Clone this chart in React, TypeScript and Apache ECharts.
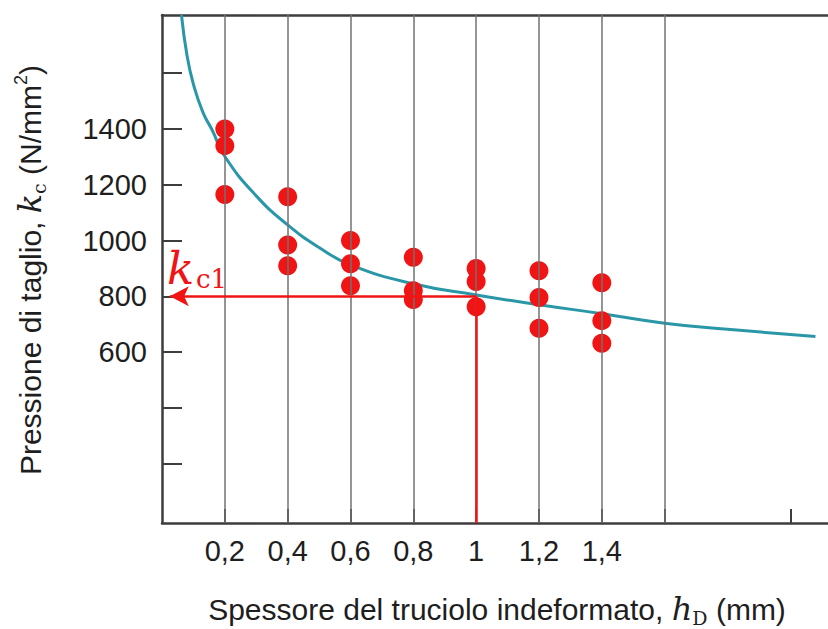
import React, { useEffect, useRef } from "react";
import * as echarts from "echarts";

// ---- data ----
const hValues = [0.2, 0.4, 0.6, 0.8, 1.0, 1.2, 1.4];
const kcMeasured = [
  [1400, 1340, 1165],
  [1157, 984, 910],
  [1000, 917, 838],
  [940, 820, 789],
  [900, 853, 763],
  [892, 796, 686],
  [849, 713, 632],
];
const curveH = [0.062, 0.08, 0.1, 0.13, 0.16, 0.2, 0.3, 0.4, 0.5, 0.6, 0.8, 1.0, 1.2, 1.4, 1.6, 1.8, 2.08];
const curveKc = [1808, 1660, 1560, 1460, 1395, 1301, 1160, 1056, 975, 913, 845, 805, 770, 738, 704, 682, 656];
const xGridLines = [0.2, 0.4, 0.6, 0.8, 1.0, 1.2, 1.4, 1.6];
const xTickValues = [0.2, 0.4, 0.6, 0.8, 1.0, 1.2, 1.4, 1.6, 2.0];
const xLabelValues = [0.2, 0.4, 0.6, 0.8, 1.0, 1.2, 1.4];
const yTickValues = [200, 400, 600, 800, 1000, 1200, 1400, 1600];
const yLabelValues = [600, 800, 1000, 1200, 1400];
const kc1 = 800;
const h1 = 1.0;
const arrowTipH = 0.025;
const xMin = 0;
const xMax = 2.12;
const yMin = -12;
const yMax = 1808;

const AXIS = "#3d3d3d";
const RED = "#f01414";
const TEAL = "#2a97a8";
const TEXT = "#1e1e1e";
const SANS = "Liberation Sans, Arial, sans-serif";
const SERIF = "DejaVu Serif, serif";

export default function App() {
  const ref = useRef<HTMLDivElement>(null);
  useEffect(() => {
    document.body.style.margin = "0";
    if (!ref.current) return;
    const chart = echarts.init(ref.current, null, { renderer: "svg" });
    const scatterData: number[][] = [];
    hValues.forEach((h, i) => kcMeasured[i].forEach((k) => scatterData.push([h, k])));
    const curveData = curveH.map((h, i) => [h, curveKc[i]]);
    const option: any = {
      animation: false,
      backgroundColor: "#ffffff",
      grid: {
        left: 162,
        top: 15,
        right: 0,
        bottom: 106,
        containLabel: false,
        outerBoundsMode: "none",
      },
      xAxis: [
        {
          type: "value",
          min: xMin,
          max: xMax,
          position: "bottom",
          axisLine: { show: true, onZero: false, lineStyle: { color: AXIS, width: 2.5 } },
          axisTick: {
            show: true,
            inside: true,
            length: 14,
            customValues: xTickValues,
            lineStyle: { color: AXIS, width: 2 },
          },
          axisLabel: {
            show: true,
            customValues: xLabelValues,
            margin: 13,
            fontSize: 29,
            fontFamily: SANS,
            color: TEXT,
            formatter: (v: number) => String(v).replace(".", ","),
          },
          splitLine: { show: false },
        },
        {
          type: "value",
          min: xMin,
          max: xMax,
          position: "top",
          axisLine: { show: true, onZero: false, lineStyle: { color: AXIS, width: 2.5 } },
          axisTick: { show: false },
          axisLabel: { show: false },
          splitLine: { show: false },
        },
      ],
      yAxis: {
        type: "value",
        min: yMin,
        max: yMax,
        axisLine: { show: true, onZero: false, lineStyle: { color: AXIS, width: 2.5 } },
        axisTick: {
          show: true,
          inside: true,
          length: 20,
          customValues: yTickValues,
          lineStyle: { color: AXIS, width: 2 },
        },
        axisLabel: {
          show: true,
          customValues: yLabelValues,
          margin: 15,
          fontSize: 29,
          fontFamily: SANS,
          color: TEXT,
          formatter: (v: number) => String(v),
        },
        splitLine: { show: false },
      },
      series: [
        {
          type: "line",
          data: [],
          z: 1,
          silent: true,
          markLine: {
            silent: true,
            symbol: ["none", "none"],
            label: { show: false },
            lineStyle: { color: "#727272", width: 1.5, type: "solid" },
            data: xGridLines.map((x) => ({ xAxis: x })),
          },
        },
        {
          type: "line",
          data: curveData,
          smooth: true,
          showSymbol: false,
          z: 2,
          lineStyle: { color: TEAL, width: 3 },
          itemStyle: { color: TEAL },
        },
        {
          type: "scatter",
          data: scatterData,
          symbolSize: 19,
          z: 3,
          itemStyle: { color: RED, opacity: 1 },
        },
        {
          type: "line",
          data: [],
          z: 4,
          silent: true,
          markLine: {
            silent: true,
            label: { show: false },
            lineStyle: { color: RED, width: 2.5, type: "solid" },
            symbolSize: [15, 19],
            data: [
              [
                { coord: [h1, kc1], symbol: "none" },
                { coord: [arrowTipH, kc1], symbol: "arrow" },
              ],
              [
                { coord: [h1, kc1], symbol: "none" },
                { coord: [h1, yMin], symbol: "none" },
              ],
            ],
          },
        },
      ],
      graphic: [
        {
          type: "text",
          x: 30,
          y: 270,
          rotation: Math.PI / 2,
          style: {
            text: "{t|Pressione di taglio, }{i|k}{sub|c}{t| (N/mm}{sup|2}{t|)}",
            align: "center",
            verticalAlign: "middle",
            fill: TEXT,
            rich: {
              t: { fontSize: 30, fontFamily: SANS, lineHeight: 36, fill: TEXT },
              i: { fontSize: 32, fontFamily: SERIF, fontStyle: "italic", lineHeight: 36, fill: TEXT },
              sub: { fontSize: 19, fontFamily: SERIF, lineHeight: 19, verticalAlign: "bottom", fill: TEXT },
              sup: { fontSize: 18, fontFamily: SANS, lineHeight: 18, verticalAlign: "top", fill: TEXT },
            },
          },
        },
        {
          type: "text",
          x: 497,
          y: 609,
          style: {
            text: "{t|Spessore del truciolo indeformato, }{i|h}{sub|D}{t| (mm)}",
            align: "center",
            verticalAlign: "middle",
            fill: TEXT,
            rich: {
              t: { fontSize: 30, fontFamily: SANS, lineHeight: 36, fill: TEXT },
              i: { fontSize: 32, fontFamily: SERIF, fontStyle: "italic", lineHeight: 36, fill: TEXT },
              sub: { fontSize: 19, fontFamily: SERIF, lineHeight: 19, verticalAlign: "bottom", fill: TEXT },
            },
          },
        },
        {
          type: "text",
          x: 167,
          y: 268,
          style: {
            text: "k",
            fontSize: 45,
            fontFamily: SERIF,
            fontStyle: "italic",
            fill: RED,
            verticalAlign: "middle",
            align: "left",
          },
        },
        {
          type: "text",
          x: 196,
          y: 279,
          style: {
            text: "c1",
            fontSize: 26,
            fontFamily: SERIF,
            fill: RED,
            verticalAlign: "middle",
            align: "left",
          },
        },
      ],
    };
    chart.setOption(option);
    return () => chart.dispose();
  }, []);
  return (
    <div
      ref={ref}
      style={{ width: 828, height: 629, position: "absolute", left: 0, top: 0, background: "#fff" }}
    />
  );
}
